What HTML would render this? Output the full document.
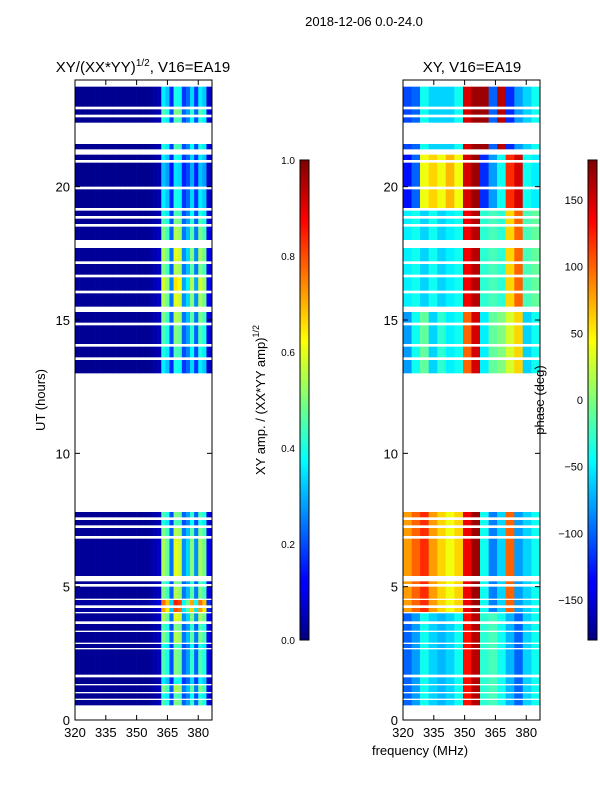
<!DOCTYPE html>
<html><head><meta charset="utf-8">
<style>
body{margin:0;background:#fff;}
svg{display:block;font-family:"Liberation Sans",sans-serif;}
</style></head>
<body>
<svg id="fig" width="600" height="800" viewBox="0 0 600 800">
<defs>
<linearGradient id="jetv" x1="0" y1="1" x2="0" y2="0">
<stop offset="0" stop-color="#00007f"/><stop offset="0.11" stop-color="#0000ff"/><stop offset="0.125" stop-color="#0000ff"/>
<stop offset="0.34" stop-color="#00dbff"/><stop offset="0.375" stop-color="#00ffff"/><stop offset="0.5" stop-color="#7dff7a"/>
<stop offset="0.625" stop-color="#ffff00"/><stop offset="0.66" stop-color="#ffdb00"/><stop offset="0.875" stop-color="#ff0000"/>
<stop offset="1" stop-color="#7f0000"/>
</linearGradient>
</defs>
<text x="364" y="26" font-size="13" text-anchor="middle">2018-12-06 0.0-24.0</text>
<text x="143" y="72" font-size="15" text-anchor="middle">XY/(XX*YY)<tspan dy="-6" font-size="10">1/2</tspan><tspan dy="6">, V16=EA19</tspan></text>
<text x="472" y="72" font-size="15" text-anchor="middle">XY, V16=EA19</text>
<g id="left"></g>
<g id="right"></g>
<g id="axes"></g>
<text x="0" y="0" transform="translate(45,400) rotate(-90)" font-size="13" text-anchor="middle">UT (hours)</text>
<text x="420" y="755" font-size="13" text-anchor="middle">frequency (MHz)</text>
<rect x="300" y="160" width="9" height="480" fill="url(#jetv)" stroke="#000" stroke-width="1"/>
<rect x="588" y="160" width="9" height="480" fill="url(#jetv)" stroke="#000" stroke-width="1"/>
<text transform="translate(265,400) rotate(-90)" font-size="13" text-anchor="middle">XY amp. / (XX*YY amp)<tspan dy="-6" font-size="9">1/2</tspan></text>
<text transform="translate(544,400) rotate(-90)" font-size="13" text-anchor="middle">phase (deg)</text>
</svg>
<script>
// ---- data ----
const segments = [[0.55,0.75],[0.8,1.0],[1.05,1.3],[1.35,1.6],[1.7,2.65],[2.7,2.85],[2.9,3.3],[3.35,3.6],[3.7,4.0],[4.05,4.2],[4.3,4.5],[4.55,5.0],[5.1,5.2],[5.4,6.8],[6.9,7.2],[7.3,7.5],[7.6,7.8],
[13.0,13.5],[13.6,14.0],[14.1,14.8],[14.9,15.3],[15.5,16.0],[16.1,16.6],[16.7,17.1],[17.2,17.7],[18.0,18.5],[18.6,18.8],[18.9,19.1],[19.2,19.9],[20.0,20.9],[21.0,21.2],[21.4,21.6],[22.4,22.6],[22.7,22.9],[23.0,23.75]];
const rowGain = [1.0,0.9,1.1,0.8,1.0,0.9,1.1,1.0,1.2,1.6,1.7,1.1,1.0,1.2,1.1,0.9,1.0,
0.8,0.9,1.0,1.1,1.2,1.3,1.1,1.2,1.1,1.0,0.9,0.8,0.7,0.8,0.9,0.9,1.0,0.8];
const rowRegime = [5,5,5,5,5,5,5,5,5,4,4,4,4,4,4,4,4,
3,3,3,3,2,2,2,2,2,2,2,1,1,1,0,0,0,0];
const ampFreqs = [320,322,324,326,328,330,332,334,336,338,340,342,344,346,348,350,352,354,356,358,360,362,364,366,368,370,372,374,376,378,380,382,384,386];
const ampCols = [0.02,0.02,0.02,0.02,0.02,0.02,0.02,0.02,0.02,0.02,0.02,0.02,0.02,0.02,0.02,0.02,0.02,0.02,0.03,0.04,0.06,0.45,0.4,0.2,0.5,0.48,0.22,0.28,0.42,0.22,0.45,0.4,0.1,0.05];
const phaseFreqs = [320,324.2,328.3,332.5,336.7,340.8,345,349.2,353.3,357.5,361.7,365.8,370,374.2,378.3,382.5];
const phaseRegimes = [
 [-110,-100,-40,-60,-60,-60,-40,150,170,170,-100,160,-120,-80,-60,-40],
 [-130,-100,40,60,40,70,40,150,170,-120,-80,-40,120,150,-40,-50],
 [-50,-40,-60,-40,-60,-50,-40,140,160,-30,-20,-30,60,100,-20,-10],
 [-80,-40,-10,-60,-30,-50,-40,100,150,-50,-10,0,30,60,-60,-40],
 [80,100,120,80,60,40,60,140,170,-40,-90,-60,100,-80,-60,-40],
 [-100,-80,-40,-60,-70,-60,-40,130,160,-30,-20,-40,-70,-100,-60,-40]];
const timeTicks = [0,5,10,15,20];
const freqTicks = [320,335,350,365,380];
const ampCbTicks = [0.0,0.2,0.4,0.6,0.8,1.0];
const phaseCbTicks = [-150,-100,-50,0,50,100,150];

// ---- scales ----
const Y0=720, Y1=80, T0=0, T1=24;
const yS = h => Y0 + (h-T0)/(T1-T0)*(Y1-Y0);
const F0=320, F1=386.7;
const xL = f => 75 + (f-F0)/(F1-F0)*137;
const xR = f => 403 + (f-F0)/(F1-F0)*137;
function jet(v){v=Math.max(0,Math.min(1,v));
 const c=x=>Math.round(255*Math.max(0,Math.min(1,x)));
 return `rgb(${c(1.5-Math.abs(4*v-3))},${c(1.5-Math.abs(4*v-2))},${c(1.5-Math.abs(4*v-1))})`;}
const NS='http://www.w3.org/2000/svg';
function mk(tag,attrs,parent){const e=document.createElementNS(NS,tag);for(const k in attrs)e.setAttribute(k,attrs[k]);parent.appendChild(e);return e;}

const gL=document.getElementById('left'), gR=document.getElementById('right');
segments.forEach((s,i)=>{
 const y=yS(s[1]), h=yS(s[0])-yS(s[1]);
 ampFreqs.forEach((f,j)=>{
  const fe = j<ampFreqs.length-1?ampFreqs[j+1]:F1;
  const r=mk('rect',{x:xL(f),y:y,width:xL(fe)-xL(f)+0.3,height:h,fill:jet(ampCols[j]*rowGain[i])},gL);
  
  
 });
 const pr=phaseRegimes[rowRegime[i]];
 phaseFreqs.forEach((f,j)=>{
  const fe = j<phaseFreqs.length-1?phaseFreqs[j+1]:F1;
  const r=mk('rect',{x:xR(f),y:y,width:xR(fe)-xR(f)+0.3,height:h,fill:jet((pr[j]+180)/360)},gR);
  
  
 });
});

const gA=document.getElementById('axes');
[[75,xL],[403,xR]].forEach(([x0,xs],p)=>{
 const fr=mk('rect',{x:x0,y:80,width:137,height:640,fill:'none',stroke:'#000','stroke-width':1},gA);
 
 
 timeTicks.forEach(t=>{
  const y=yS(t);
  mk('line',{x1:x0,x2:x0+5,y1:y,y2:y,stroke:'#000'},gA);
  mk('line',{x1:x0+137,x2:x0+132,y1:y,y2:y,stroke:'#000'},gA);
  const l=mk('text',{x:x0-5,y:y+5,'font-size':13,'text-anchor':'end'},gA);l.textContent=t;
  
  
 });
 freqTicks.forEach(f=>{
  const x=xs(f);
  mk('line',{x1:x,x2:x,y1:720,y2:715,stroke:'#000'},gA);
  mk('line',{x1:x,x2:x,y1:80,y2:85,stroke:'#000'},gA);
  const l=mk('text',{x:x,y:737,'font-size':13,'text-anchor':'middle'},gA);l.textContent=f;
  
  
 });
});
ampCbTicks.forEach(v=>{
 const y=640-v*480;
 mk('line',{x1:300,x2:304,y1:y,y2:y,stroke:'#000'},gA);
 const l=mk('text',{x:295,y:y+4,'font-size':10,'text-anchor':'end'},gA);l.textContent=v.toFixed(1);
 
 
});
phaseCbTicks.forEach(v=>{
 const y=400-v/180*240;
 mk('line',{x1:588,x2:592,y1:y,y2:y,stroke:'#000'},gA);
 const l=mk('text',{x:583,y:y+4,'font-size':11,'text-anchor':'end'},gA);l.textContent=v<0?'\u2212'+(-v):v;
 
 
});
</script>
</body></html>
